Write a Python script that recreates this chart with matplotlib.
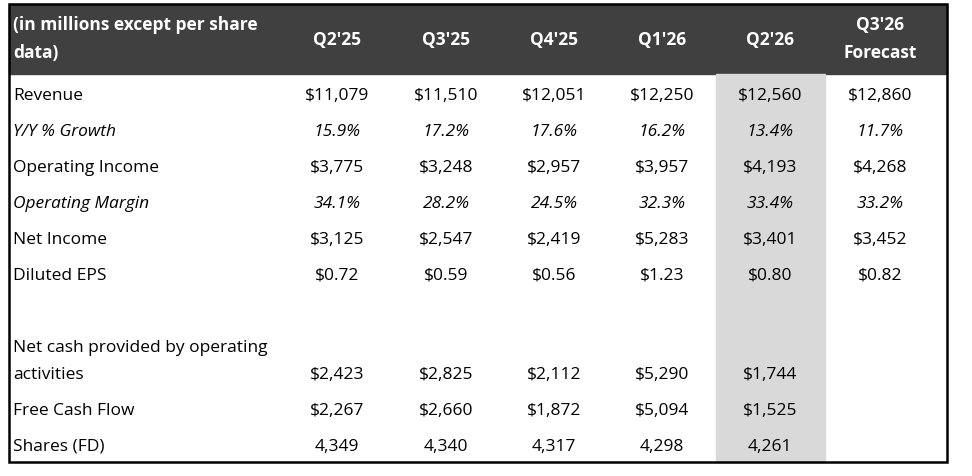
import matplotlib.pyplot as plt
from matplotlib.patches import Rectangle

plt.rcParams['font.family'] = ['Open Sans', 'DejaVu Sans']

columns = ["Q2'25", "Q3'25", "Q4'25", "Q1'26", "Q2'26", "Q3'26\nForecast"]
row_labels = ["Revenue", "Y/Y % Growth", "Operating Income", "Operating Margin",
              "Net Income", "Diluted EPS", "", "Net cash provided by operating\nactivities",
              "Free Cash Flow", "Shares (FD)"]
revenue = ["$11,079", "$11,510", "$12,051", "$12,250", "$12,560", "$12,860"]
yy_growth = ["15.9%", "17.2%", "17.6%", "16.2%", "13.4%", "11.7%"]
op_income = ["$3,775", "$3,248", "$2,957", "$3,957", "$4,193", "$4,268"]
op_margin = ["34.1%", "28.2%", "24.5%", "32.3%", "33.4%", "33.2%"]
net_income = ["$3,125", "$2,547", "$2,419", "$5,283", "$3,401", "$3,452"]
diluted_eps = ["$0.72", "$0.59", "$0.56", "$1.23", "$0.80", "$0.82"]
blank = ["", "", "", "", "", ""]
op_cash = ["$2,423", "$2,825", "$2,112", "$5,290", "$1,744", ""]
fcf = ["$2,267", "$2,660", "$1,872", "$5,094", "$1,525", ""]
shares = ["4,349", "4,340", "4,317", "4,298", "4,261", ""]
rows = [revenue, yy_growth, op_income, op_margin, net_income, diluted_eps,
        blank, op_cash, fcf, shares]
italic_rows = [1, 3]
highlight_col = 4

fig = plt.figure(figsize=(9.72, 4.77), dpi=100)
ax = fig.add_axes([0, 0, 1, 1])
ax.set_xlim(0, 972)
ax.set_ylim(477, 0)
ax.axis('off')

left, right, top, bottom = 9, 947, 5, 463
head_bottom = 75
col_x = [337, 446, 554, 662, 770, 880]
col_w = 109
row_y = [96, 132, 168, 204, 240, 276, 312, 375, 411, 447]
fs = 12.5

# header band + highlighted column
ax.add_patch(Rectangle((left, top), right - left, head_bottom - top, color='#404040', zorder=1))
ax.add_patch(Rectangle((col_x[highlight_col] - col_w / 2, head_bottom), col_w,
                       bottom - head_bottom, color='#d9d9d9', zorder=1))
ax.add_patch(Rectangle((left, top), right - left, bottom - top, fill=False,
                       edgecolor='black', lw=1.8, zorder=3))

ax.text(13, 25, "(in millions except per share", color='white', fontsize=fs,
        fontweight='bold', va='center', ha='left', zorder=2)
ax.text(13, 53, "data)", color='white', fontsize=fs, fontweight='bold',
        va='center', ha='left', zorder=2)
for x, c in zip(col_x, columns):
    if "\n" in c:
        a, b = c.split("\n")
        ax.text(x, 25, a, color='white', fontsize=fs, fontweight='bold',
                ha='center', va='center', zorder=2)
        ax.text(x, 53, b, color='white', fontsize=fs, fontweight='bold',
                ha='center', va='center', zorder=2)
    else:
        ax.text(x, 40, c, color='white', fontsize=fs, fontweight='bold',
                ha='center', va='center', zorder=2)

for i, (y, lab, vals) in enumerate(zip(row_y, row_labels, rows)):
    style = 'italic' if i in italic_rows else 'normal'
    if "\n" in lab:
        a, b = lab.split("\n")
        ax.text(13, y - 27, a, fontsize=fs, va='center', ha='left', zorder=2)
        ax.text(13, y, b, fontsize=fs, va='center', ha='left', zorder=2)
    else:
        ax.text(13, y, lab, fontsize=fs, va='center', ha='left', style=style, zorder=2)
    for x, v in zip(col_x, vals):
        ax.text(x, y, v, fontsize=fs, va='center', ha='center', style=style, zorder=2)

fig.savefig('out.png', dpi=100)
